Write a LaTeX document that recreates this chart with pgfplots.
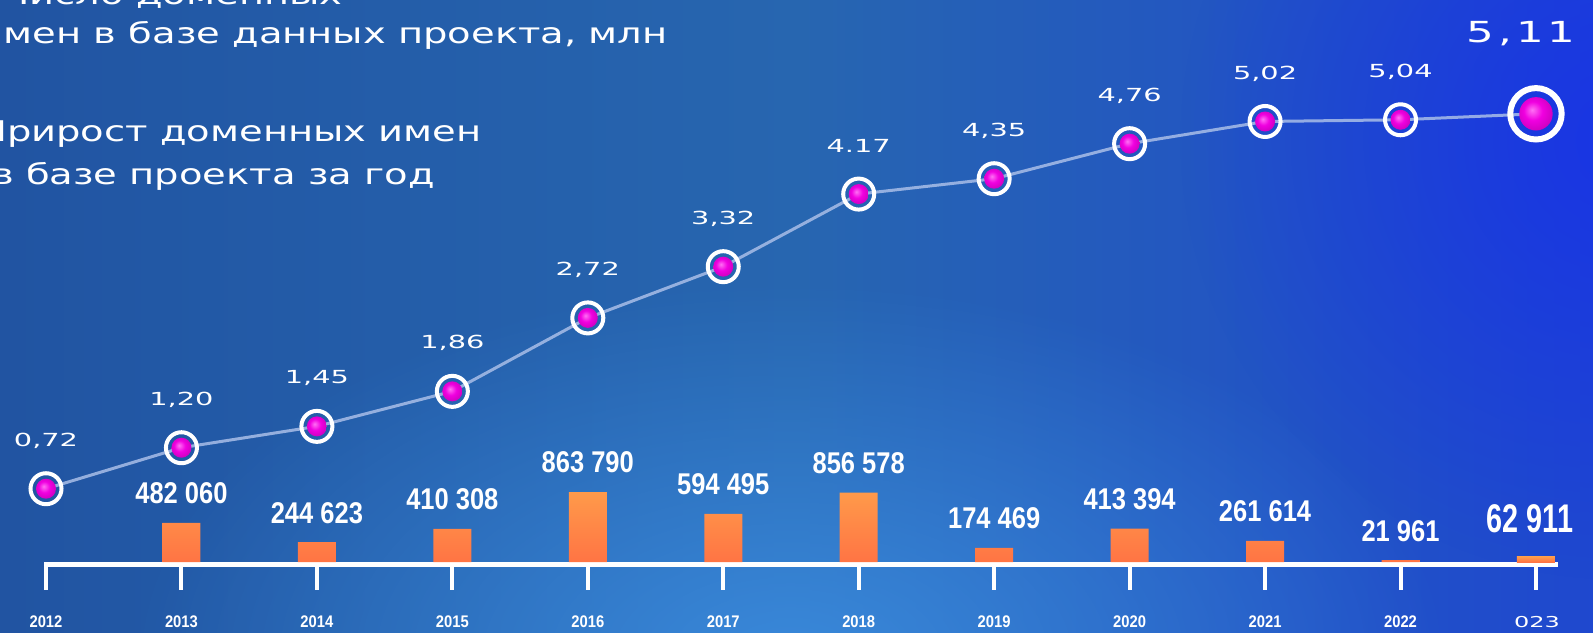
\documentclass[border=0pt]{standalone}
\usepackage{pgfplots}
\pgfplotsset{compat=1.18}
\usepackage{pgfplotstable}
\usepackage{fontspec}
\setmainfont{DejaVu Sans}
\usetikzlibrary{fadings}
\newfontfamily\titlefont[FakeStretch=1.35]{DejaVu Sans}
\newfontfamily\valfont[FakeStretch=1.6]{DejaVu Sans}
\newfontfamily\bigvalfont[FakeStretch=1.5,LetterSpace=14]{DejaVu Sans}
\newfontfamily\barfont[FakeStretch=0.85]{Liberation Sans}
\newfontfamily\barbigfont[FakeStretch=0.72]{Liberation Sans}
\newfontfamily\yearfont[FakeStretch=0.88]{Liberation Sans}

\definecolor{glowC}{HTML}{3D8FE2}
\definecolor{vivid}{HTML}{1830EA}
\definecolor{lineC}{HTML}{A9BEE8}
\definecolor{barTop}{HTML}{FF9A4A}
\definecolor{barBot}{HTML}{FF7444}
\definecolor{magA}{HTML}{F000E0}
\definecolor{magB}{HTML}{FF70F4}
\definecolor{magD}{HTML}{8A0090}
\definecolor{bg0}{HTML}{1D3F92}
\definecolor{bg1}{HTML}{2258A5}
\definecolor{bg2}{HTML}{2766B0}
\definecolor{bg3}{HTML}{2254C4}
\definecolor{bg4}{HTML}{1D42D4}
\definecolor{bg5}{HTML}{1A32E2}

\pgfdeclarehorizontalshading{bgshade}{100bp}{%
  color(0bp)=(bg0); color(30bp)=(bg1); color(50bp)=(bg2); color(65bp)=(bg3); color(80bp)=(bg4); color(100bp)=(bg5)}

\pgfdeclareradialshading{magball}{\pgfpoint{-6bp}{6bp}}{%
  color(0bp)=(magB); color(14bp)=(magA); color(34bp)=(magA!80!black); color(50bp)=(magD)}
\pgfdeclareplotmark{magball}{%
  \pgfpathcircle{\pgfpointorigin}{\pgfplotmarksize}%
  \pgfshadepath{magball}{0}%
  \pgfusepath{discard}}

\tikzfading[name=glowfade, inner color=transparent!0, outer color=transparent!100]

\pgfplotstableread{
year total label
2012 0.72 {0,72}
2013 1.20 {1,20}
2014 1.45 {1,45}
2015 1.86 {1,86}
2016 2.72 {2,72}
2017 3.32 {3,32}
2018 4.17 {4.17}
2019 4.35 {4,35}
2020 4.76 {4,76}
2021 5.02 {5,02}
2022 5.04 {5,04}
2023 5.11 {5,11}
}\totaltable

\pgfplotstableread{
year gain label
2013 482060 {482 060}
2014 244623 {244 623}
2015 410308 {410 308}
2016 863790 {863 790}
2017 594495 {594 495}
2018 856578 {856 578}
2019 174469 {174 469}
2020 413394 {413 394}
2021 261614 {261 614}
2022 21961 {21 961}
}\gaintable

\pgfplotsset{base/.style={at={(0pt,0pt)}, anchor=south west, scale only axis,
  width=796.5pt, height=316pt, hide axis, clip=false,
  xmin=2011.6604, xmax=2023.4212}}

\begin{document}
\begin{tikzpicture}
\useasboundingbox (0,0) rectangle (796.5pt,316pt);
\clip (0,0) rectangle (796.5pt,316pt);
\shade[shading=bgshade] (0,0) rectangle (796.5pt,316pt);
\begin{scope}[x=0.5pt,y=-0.5pt,yshift=316pt]
  \fill[vivid, path fading=glowfade, opacity=0.8] (1620,140) ellipse [x radius=220pt, y radius=220pt];
  \fill[glowC, path fading=glowfade, opacity=0.85] (790,660) ellipse [x radius=330pt, y radius=190pt];
  % title text
  \begin{scope}[every node/.style={text=white, font=\titlefont\fontsize{14.25}{16}\selectfont, inner sep=0pt, anchor=base east}]
  \node at (343,5) {Число доменных};
  \node at (668,44) {имен в базе данных проекта, млн};
  \node at (482,142) {Прирост доменных имен};
  \node at (435,185) {в базе проекта за год};
  \end{scope}
  % axis line and ticks
  \draw[white, line width=2.5pt] (44,564) -- (1558,564);
  \foreach \i in {0,...,11} {
    \draw[white, line width=2pt] ({46+135.45*\i},564) -- ({46+135.45*\i},590);
  }
  \foreach \i/\yr in {0/2012,1/2013,2/2014,3/2015,4/2016,5/2017,6/2018,7/2019,8/2020,9/2021,10/2022} {
    \node[text=white, font=\yearfont\bfseries\fontsize{8.4}{9}\selectfont, inner sep=0pt] at ({46+135.45*\i},622) {\yr};
  }
  \node[text=white, font=\valfont\fontsize{7.5}{8}\selectfont, inner sep=0pt] at (1537,622) {023};
\end{scope}

% bars
\begin{axis}[base, ymin=-864220, ymax=6938450]
\addplot[ybar, bar shift=0pt, bar width=19pt, draw=none, top color=barTop, bottom color=barBot,
  nodes near coords, point meta=explicit symbolic,
  every node near coord/.append style={font=\barfont\bfseries\fontsize{15}{16}\selectfont, text=white, anchor=center, yshift=14.7pt}]
  table[x=year, y=gain, meta=label]{\gaintable};
\addplot[ybar, bar shift=0pt, bar width=19pt, draw=none, top color=barTop, bottom color=barBot,
  nodes near coords, point meta=explicit symbolic,
  every node near coord/.append style={font=\barbigfont\bfseries\fontsize{20}{21}\selectfont, text=white, anchor=center, yshift=19pt, xshift=-3pt}]
  coordinates {(2023,62911) [62 911]};
\end{axis}

% line
\begin{axis}[base, ymin=-0.9578, ymax=6.4426]
\addplot[lineC, line width=1.5pt, opacity=0.85] table[x=year, y=total]{\totaltable};
\addplot[only marks, mark=o, mark size=7.75pt, mark options={draw=white, line width=2pt},
  restrict x to domain=2012:2022,
  nodes near coords, point meta=explicit symbolic,
  every node near coord/.append style={font=\valfont\fontsize{9}{10}\selectfont, text=white, anchor=center, yshift=24pt}]
  table[x=year, y=total, meta=label]{\totaltable};
\addplot[only marks, mark=magball, mark size=5pt, restrict x to domain=2012:2022]
  table[x=year, y=total]{\totaltable};
\addplot[only marks, mark=o, mark size=12.85pt, mark options={draw=white, line width=3pt},
  nodes near coords, point meta=explicit symbolic,
  every node near coord/.append style={font=\bigvalfont\fontsize{14.5}{15}\selectfont, text=white, anchor=center, yshift=40.25pt, xshift=-7.5pt}]
  coordinates {(2023,5.11) [5,11]};
\addplot[only marks, mark=magball, mark size=8.35pt] coordinates {(2023,5.11)};
\end{axis}
\end{tikzpicture}
\end{document}
